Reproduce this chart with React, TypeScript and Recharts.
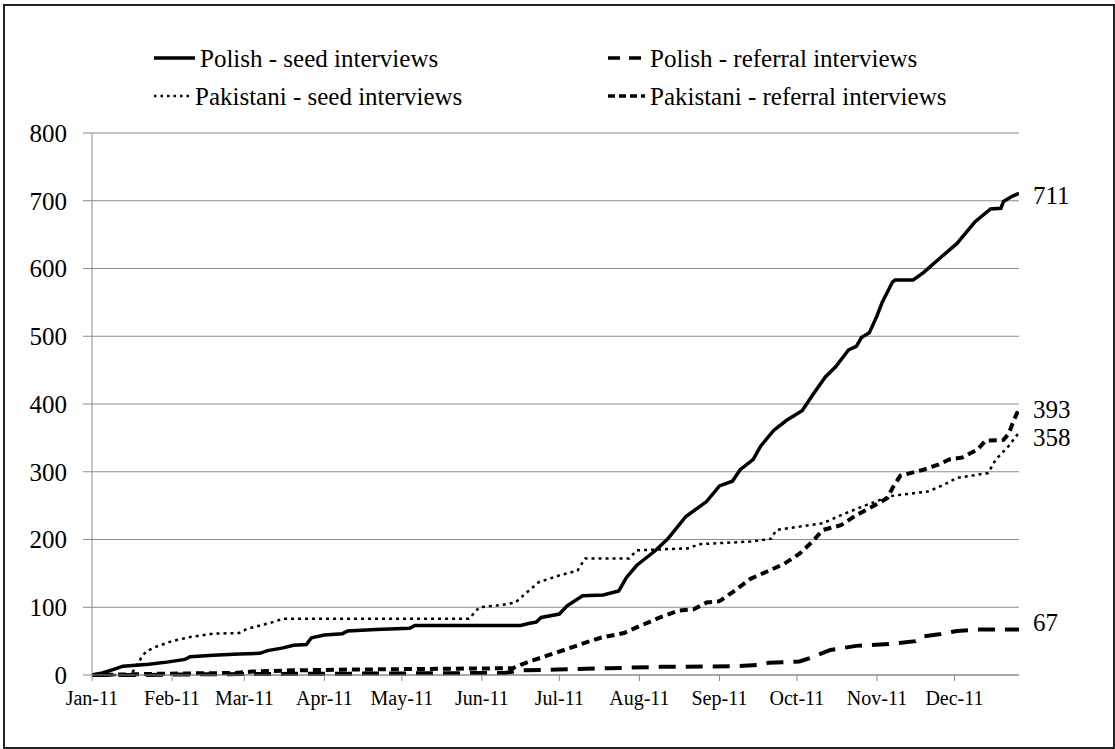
import React from "react"
import { CartesianGrid, Line, LineChart, XAxis, YAxis } from "recharts"

// cumulative interviews, day of year 2011 -> running total
const polishSeedDays = [0, 4, 9, 12, 22, 29, 36, 38, 47, 57, 65, 68, 74, 78, 83, 85, 90, 97, 99, 110, 123, 125, 166, 169, 172, 174, 181, 184, 190, 198, 204, 207, 211, 218, 223, 230, 238, 243, 248, 251, 256, 259, 264, 269, 275, 279, 284, 288, 293, 296, 298, 301, 304, 306, 310, 311, 318, 322, 328, 335, 342, 348, 352, 353, 356, 359]
const polishSeedValues = [0, 3, 9, 13, 16, 19, 23, 27, 29, 31, 32, 36, 40, 44, 45, 55, 59, 61, 65, 67, 69, 73, 73, 76, 78, 85, 90, 102, 117, 118, 124, 144, 162, 183, 201, 234, 256, 279, 286, 303, 318, 338, 361, 376, 390, 413, 440, 455, 480, 485, 498, 505, 530, 550, 580, 583, 583, 594, 614, 637, 669, 688, 689, 699, 706, 711]

const polishReferralDays = [0, 20, 40, 100, 160, 166, 180, 200, 220, 250, 259, 262, 274, 278, 286, 296, 309, 319, 322, 328, 335, 343, 359]
const polishReferralValues = [0, 0, 1, 2, 3, 7, 8, 10, 12, 13, 15, 18, 20, 25, 37, 43, 46, 50, 57, 60, 65, 67, 67]

const pakistaniSeedDays = [0, 15, 17, 19, 21, 25, 31, 38, 47, 57, 60, 70, 74, 146, 150, 158, 164, 166, 173, 181, 188, 191, 208, 211, 231, 235, 255, 263, 265, 274, 283, 292, 300, 309, 324, 330, 335, 347, 350, 355, 359]
const pakistaniSeedValues = [0, 0, 12, 25, 35, 42, 50, 56, 61, 62, 68, 78, 83, 83, 100, 103, 107, 114, 137, 147, 154, 172, 172, 184, 187, 193, 197, 201, 214, 219, 224, 239, 251, 264, 271, 281, 291, 298, 318, 338, 358]

const pakistaniReferralDays = [0, 30, 55, 62, 80, 100, 130, 163, 166, 171, 179, 189, 197, 206, 212, 220, 227, 233, 238, 243, 248, 255, 261, 268, 274, 279, 283, 290, 296, 301, 308, 310, 313, 322, 328, 332, 337, 343, 346, 353, 355, 357, 359]
const pakistaniReferralValues = [0, 2, 3, 5, 7, 8, 9, 10, 15, 22, 32, 45, 55, 62, 72, 85, 95, 97, 107, 109, 122, 142, 152, 164, 179, 197, 214, 221, 236, 246, 261, 276, 294, 303, 311, 318, 321, 333, 346, 347, 356, 376, 393]

const monthStarts = [0, 31, 59, 90, 120, 151, 181, 212, 243, 273, 304, 334]
const monthLabels = ["Jan-11", "Feb-11", "Mar-11", "Apr-11", "May-11", "Jun-11", "Jul-11", "Aug-11", "Sep-11", "Oct-11", "Nov-11", "Dec-11"]
const yTicks = [0, 100, 200, 300, 400, 500, 600, 700, 800]

const font = "'Liberation Serif', 'Times New Roman', 'DejaVu Serif', serif"
const gridGray = "#8c8c8c"

const toRows = (days: number[], values: number[]) => days.map((day, i) => ({ day, value: values[i] }))

const series = [
  { key: "ps", name: "Polish - seed interviews", rows: toRows(polishSeedDays, polishSeedValues), width: 3.5, dash: undefined, labelDy: 2 },
  { key: "pr", name: "Polish - referral interviews", rows: toRows(polishReferralDays, polishReferralValues), width: 4, dash: "17 10", labelDy: -7 },
  { key: "ks", name: "Pakistani - seed interviews", rows: toRows(pakistaniSeedDays, pakistaniSeedValues), width: 2.5, dash: "3 4", labelDy: 5 },
  { key: "kr", name: "Pakistani - referral interviews", rows: toRows(pakistaniReferralDays, pakistaniReferralValues), width: 4, dash: "8 5", labelDy: 1 },
]

const endLabel = (rows: { value: number }[], dy: number) => (props: any) => {
  if (props.index !== rows.length - 1) return <g />
  return (
    <text x={props.x + 14} y={props.y + dy} dominantBaseline="central" fontSize={25} fill="#000">
      {rows[rows.length - 1].value}
    </text>
  )
}

// legend drawn as an overlay, two columns like the original
const legendSlots = [
  { x: 154, y: 58, len: 41 },
  { x: 608, y: 58, len: 37 },
  { x: 154, y: 96, len: 36 },
  { x: 608, y: 96, len: 37 },
]
const legendDash: Record<string, string | undefined> = { ps: undefined, pr: "12 9", ks: "2.5 4", kr: "7 4" }

function LegendBlock() {
  return (
    <svg width={1115} height={120} style={{ position: "absolute", left: 0, top: 0 }}>
      {series.map((s, i) => {
        const slot = legendSlots[i]
        return (
          <g key={s.key}>
            <line x1={slot.x} x2={slot.x + slot.len} y1={slot.y} y2={slot.y} stroke="#000" strokeWidth={s.key === "ks" ? 2.5 : 3.5} strokeDasharray={legendDash[s.key]} />
            <text x={slot.x + slot.len + 5} y={slot.y} dominantBaseline="central" fontSize={25} fill="#000">
              {s.name}
            </text>
          </g>
        )
      })}
    </svg>
  )
}

export default function App() {
  return (
    <div style={{ position: "absolute", left: 0, top: 0, width: 1115, height: 749, background: "#fff" }}>
      <style>{`svg text { font-family: ${font} !important; }`}</style>
      <div style={{ position: "absolute", left: 3, top: 4, width: 1112, height: 745, border: "2px solid #222", boxSizing: "border-box" }} />
      <LineChart width={1115} height={749} margin={{ top: 133, right: 96, bottom: 44, left: 32 }}>
        <CartesianGrid vertical={false} stroke={gridGray} />
        <XAxis
          type="number"
          dataKey="day"
          domain={[0, 359]}
          ticks={monthStarts}
          tickFormatter={(d: number) => monthLabels[monthStarts.indexOf(d)]}
          height={30}
          tickSize={6}
          tickMargin={10}
          stroke={gridGray}
          tick={{ fontSize: 20, fill: "#000" }}
          allowDataOverflow
        />
        <YAxis
          type="number"
          domain={[0, 800]}
          ticks={yTicks}
          width={60}
          tickSize={9}
          tickMargin={16}
          stroke={gridGray}
          tick={{ fontSize: 25, fill: "#000" }}
        />
        {series.map((s) => (
          <Line
            key={s.key}
            data={s.rows}
            dataKey="value"
            name={s.name}
            type="linear"
            stroke="#000"
            strokeWidth={s.width}
            strokeDasharray={s.dash}
            dot={false}
            label={endLabel(s.rows, s.labelDy)}
            isAnimationActive={false}
          />
        ))}
      </LineChart>
      <LegendBlock />
    </div>
  )
}
